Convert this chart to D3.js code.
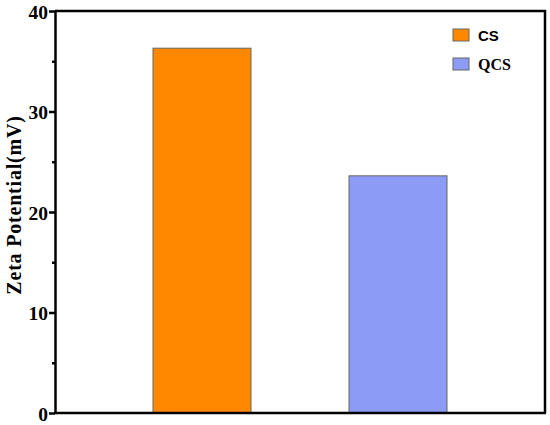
<!DOCTYPE html>
<html><head><meta charset="utf-8">
<script src="https://cdn.jsdelivr.net/npm/d3@7"></script>
<style>body{margin:0;background:#fff}</style>
</head><body>
<script>
const categories = ["CS", "QCS"];
const values = [36.3, 23.6];
const colors = ["#FF8800", "#8C9BF5"];
const yTicks = [0, 10, 20, 30, 40];
const yMinorTicks = [5, 15, 25, 35];
const yLabel = "Zeta Potential(mV)";

const W = 550, H = 425;
const m = {left: 55, right: 5, top: 11, bottom: 12};
const serif = "'Liberation Serif', 'Times New Roman', serif";
const svg = d3.select("body").append("svg").attr("width", W).attr("height", H);

const x = d3.scaleBand().domain(categories).range([m.left, W - m.right]).paddingInner(0.5).paddingOuter(0.5);
const y = d3.scaleLinear().domain([0, 40]).range([H - m.bottom, m.top]);

// bars
svg.selectAll("rect.bar").data(categories).join("rect")
  .attr("class", "bar")
  .attr("x", d => x(d))
  .attr("width", x.bandwidth())
  .attr("y", (d, i) => y(values[i]))
  .attr("height", (d, i) => y(0) - y(values[i]))
  .attr("fill", (d, i) => colors[i])
  .attr("stroke", "#666")
  .attr("stroke-width", 1);

// frame (top/right)
svg.append("path")
  .attr("d", `M${m.left},${m.top}H${W - m.right}V${H - m.bottom}`)
  .attr("fill", "none").attr("stroke", "#000").attr("stroke-width", 2.5);

// y axis
const yAxis = svg.append("g").attr("transform", `translate(${m.left},0)`)
  .call(d3.axisLeft(y).tickValues(yTicks).tickSize(6).tickPadding(1).tickSizeOuter(0));
yAxis.attr("font-family", serif).attr("font-size", 19.5);
yAxis.select(".domain").attr("stroke-width", 2.5);
yAxis.selectAll(".tick line").attr("stroke-width", 2.5);
yAxis.selectAll("text").style("font-family", serif)
  .style("font-weight", "bold").style("font-size", "19.5px").attr("fill", "#000")
  .attr("dy", "0.36em");
svg.append("g").attr("transform", `translate(${m.left},0)`)
  .call(d3.axisLeft(y).tickValues(yMinorTicks).tickSize(3).tickFormat(""))
  .call(g => g.select(".domain").remove())
  .selectAll(".tick line").attr("stroke-width", 2.5);

// x axis line
svg.append("line").attr("x1", m.left - 1).attr("x2", W - m.right + 1)
  .attr("y1", y(0)).attr("y2", y(0)).attr("stroke", "#000").attr("stroke-width", 2.5);

// y label
svg.append("text")
  .attr("transform", `translate(21,205) rotate(-90)`)
  .attr("text-anchor", "middle")
  .style("font-family", serif)
  .style("font-weight", "bold").style("font-size", "20px")
  .attr("letter-spacing", 0.8)
  .text(yLabel);

// legend
const leg = svg.append("g").attr("transform", "translate(453,29)");
categories.forEach((c, i) => {
  const g = leg.append("g").attr("transform", `translate(0,${i * 29})`);
  g.append("rect").attr("width", 16).attr("height", 12)
    .attr("fill", colors[i]).attr("stroke", "#666").attr("stroke-width", 1);
  g.append("text").attr("x", 25).attr("y", 11.5)
    .style("font-family", i === 0 ? "'Liberation Sans', Arial, sans-serif" : serif)
    .style("font-weight", "bold").style("font-size", i === 0 ? "15px" : "16px").text(c);
});
</script>
</body></html>
